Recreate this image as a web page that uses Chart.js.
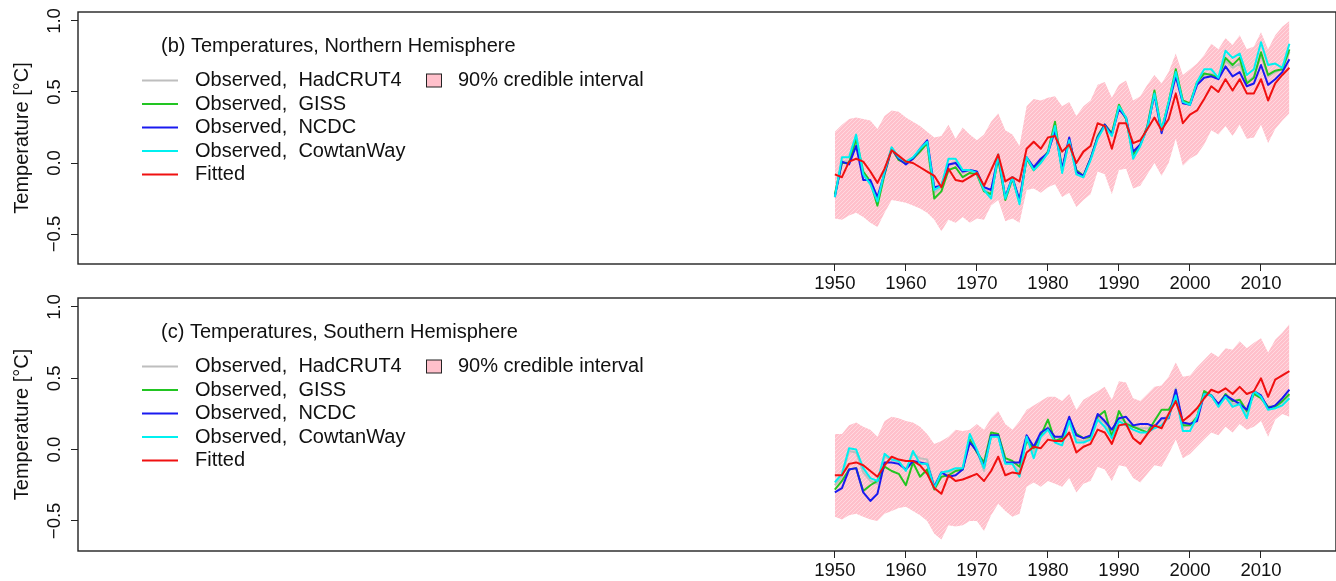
<!DOCTYPE html>
<html>
<head>
<meta charset="utf-8">
<script src="https://cdn.jsdelivr.net/npm/chart.js@4.4.1/dist/chart.umd.min.js"></script>
<style>
  html, body { margin: 0; padding: 0; background: #fff; }
  #wrap { position: relative; width: 1336px; height: 581px; overflow: hidden; }
  canvas { position: absolute; left: 0; }
</style>
</head>
<body>
<div id="wrap">
  <canvas id="nh" width="1336" height="300" style="top:0"></canvas>
  <canvas id="sh" width="1336" height="291" style="top:290px"></canvas>
</div>
<script>
// ---- years and tick labels ----
const years = [1950,1951,1952,1953,1954,1955,1956,1957,1958,1959,
               1960,1961,1962,1963,1964,1965,1966,1967,1968,1969,
               1970,1971,1972,1973,1974,1975,1976,1977,1978,1979,
               1980,1981,1982,1983,1984,1985,1986,1987,1988,1989,
               1990,1991,1992,1993,1994,1995,1996,1997,1998,1999,
               2000,2001,2002,2003,2004,2005,2006,2007,2008,2009,
               2010,2011,2012,2013,2014];
const xTicks = [1950, 1960, 1970, 1980, 1990, 2000, 2010];
const yTicks = [-0.5, 0.0, 0.5, 1.0];
const yTickLabels = ['\u22120.5', '0.0', '0.5', '1.0'];
const xLimits = [1843.44, 2020.56];
const yLimits = [-0.711, 1.063];

// ---- Northern Hemisphere (°C) ----
const nhHadCRUT4 = [-0.23,0.01,0.01,0.15,-0.09,-0.13,-0.27,-0.07,0.11,0.03,
                    0.00,0.04,0.09,0.15,-0.21,-0.17,-0.02,0.01,-0.07,-0.05,
                    -0.07,-0.18,-0.22,0.05,-0.25,-0.11,-0.27,0.04,-0.04,0.02,
                    0.07,0.25,-0.06,0.17,-0.07,-0.10,0.03,0.18,0.27,0.20,
                    0.39,0.31,0.05,0.12,0.25,0.49,0.22,0.42,0.63,0.43,
                    0.41,0.56,0.62,0.63,0.60,0.72,0.67,0.70,0.57,0.61,
                    0.76,0.61,0.64,0.66,0.78];
const nhGISS = [-0.22,0.00,0.00,0.17,-0.06,-0.13,-0.30,-0.08,0.10,0.02,
                0.00,0.03,0.08,0.14,-0.25,-0.20,-0.05,-0.03,-0.10,-0.07,
                -0.08,-0.20,-0.22,0.03,-0.26,-0.11,-0.27,0.03,-0.05,0.01,
                0.08,0.29,-0.05,0.16,-0.05,-0.09,0.03,0.19,0.27,0.21,
                0.41,0.31,0.06,0.13,0.26,0.51,0.23,0.43,0.66,0.44,
                0.42,0.57,0.63,0.62,0.60,0.74,0.69,0.74,0.56,0.60,
                0.78,0.62,0.65,0.66,0.80];
const nhNCDC = [-0.24,0.01,-0.01,0.12,-0.12,-0.12,-0.24,-0.07,0.10,0.03,
                -0.01,0.03,0.10,0.16,-0.17,-0.16,-0.01,0.00,-0.06,-0.05,
                -0.06,-0.17,-0.19,0.05,-0.24,-0.10,-0.26,0.04,-0.03,0.03,
                0.07,0.23,-0.04,0.18,-0.06,-0.09,0.03,0.18,0.27,0.20,
                0.38,0.32,0.08,0.13,0.25,0.48,0.21,0.41,0.61,0.42,
                0.41,0.55,0.60,0.61,0.59,0.68,0.61,0.64,0.54,0.56,
                0.69,0.55,0.59,0.64,0.73];
const nhCowtanWay = [-0.24,0.04,0.04,0.20,-0.08,-0.15,-0.27,-0.06,0.11,0.04,
                     0.01,0.04,0.10,0.15,-0.19,-0.16,0.03,0.03,-0.05,-0.05,
                     -0.07,-0.19,-0.25,0.06,-0.25,-0.10,-0.29,0.04,-0.05,0.00,
                     0.07,0.26,-0.07,0.16,-0.08,-0.10,0.02,0.17,0.26,0.19,
                     0.40,0.32,0.03,0.12,0.25,0.49,0.23,0.43,0.64,0.43,
                     0.41,0.57,0.66,0.66,0.60,0.79,0.74,0.77,0.62,0.66,
                     0.85,0.69,0.70,0.67,0.84];
const nhFitted = [-0.08,-0.10,0.01,0.03,0.01,-0.06,-0.14,-0.04,0.09,0.05,
                  0.01,0.00,-0.03,-0.06,-0.09,-0.17,-0.04,-0.12,-0.13,-0.10,
                  -0.07,-0.16,-0.05,0.06,-0.13,-0.10,-0.13,0.10,0.15,0.10,
                  0.18,0.19,0.08,0.13,0.00,0.08,0.12,0.28,0.26,0.10,
                  0.28,0.28,0.14,0.16,0.24,0.32,0.23,0.31,0.49,0.28,
                  0.34,0.37,0.45,0.54,0.50,0.59,0.51,0.59,0.49,0.49,
                  0.59,0.44,0.56,0.62,0.67];
const nhUpper = [0.22,0.27,0.31,0.32,0.31,0.30,0.24,0.33,0.37,0.36,
                 0.32,0.29,0.26,0.22,0.18,0.19,0.27,0.17,0.25,0.20,
                 0.16,0.20,0.29,0.35,0.23,0.20,0.12,0.40,0.45,0.44,
                 0.46,0.47,0.40,0.43,0.33,0.40,0.44,0.55,0.57,0.46,
                 0.55,0.58,0.44,0.47,0.55,0.62,0.56,0.64,0.77,0.62,
                 0.66,0.70,0.76,0.84,0.80,0.88,0.83,0.90,0.80,0.82,
                 0.92,0.80,0.90,0.96,1.00];
const nhLower = [-0.39,-0.40,-0.37,-0.35,-0.38,-0.42,-0.45,-0.35,-0.26,-0.27,
                 -0.28,-0.30,-0.32,-0.35,-0.40,-0.48,-0.40,-0.42,-0.38,-0.42,
                 -0.39,-0.40,-0.30,-0.26,-0.41,-0.39,-0.42,-0.19,-0.18,-0.21,
                 -0.17,-0.15,-0.24,-0.21,-0.31,-0.26,-0.22,-0.06,-0.08,-0.22,
                 -0.05,-0.04,-0.18,-0.16,-0.08,0.00,-0.09,0.00,0.17,-0.02,
                 0.03,0.06,0.13,0.23,0.20,0.26,0.19,0.27,0.17,0.18,
                 0.27,0.14,0.24,0.30,0.35];

// ---- Southern Hemisphere (°C) ----
const shHadCRUT4 = [-0.25,-0.19,-0.01,-0.02,-0.16,-0.22,-0.24,-0.05,-0.07,-0.09,
                    -0.14,-0.03,-0.06,-0.07,-0.26,-0.16,-0.16,-0.14,-0.13,0.08,
                    -0.01,-0.15,0.10,0.10,-0.09,-0.10,-0.16,0.08,-0.02,0.10,
                    0.16,0.07,0.05,0.21,0.07,0.06,0.08,0.22,0.19,0.10,
                    0.22,0.19,0.16,0.15,0.15,0.17,0.21,0.24,0.43,0.16,
                    0.17,0.22,0.39,0.38,0.31,0.38,0.32,0.33,0.25,0.40,
                    0.37,0.29,0.30,0.33,0.38];
const shGISS = [-0.28,-0.22,-0.14,-0.13,-0.29,-0.25,-0.22,-0.12,-0.15,-0.17,
                -0.25,-0.09,-0.19,-0.14,-0.28,-0.19,-0.18,-0.15,-0.14,0.07,
                -0.02,-0.09,0.12,0.11,-0.06,-0.08,-0.12,0.06,0.01,0.10,
                0.21,0.06,0.08,0.21,0.11,0.08,0.09,0.23,0.27,0.09,
                0.27,0.18,0.16,0.14,0.12,0.20,0.28,0.28,0.36,0.17,
                0.17,0.23,0.41,0.38,0.31,0.39,0.34,0.35,0.27,0.39,
                0.36,0.30,0.30,0.34,0.39];
const shNCDC = [-0.30,-0.27,-0.14,-0.13,-0.30,-0.36,-0.31,-0.09,-0.09,-0.10,
                -0.14,-0.08,-0.09,-0.10,-0.26,-0.16,-0.19,-0.18,-0.14,0.05,
                -0.01,-0.12,0.10,0.10,-0.09,-0.09,-0.09,0.10,0.02,0.12,
                0.15,0.09,0.09,0.23,0.10,0.08,0.10,0.25,0.20,0.14,
                0.22,0.23,0.17,0.18,0.18,0.16,0.22,0.22,0.42,0.19,
                0.18,0.20,0.39,0.38,0.32,0.38,0.35,0.32,0.28,0.41,
                0.38,0.29,0.31,0.36,0.42];
const shCowtanWay = [-0.23,-0.17,0.01,0.00,-0.13,-0.20,-0.22,-0.03,-0.07,-0.08,
                     -0.15,-0.01,-0.10,-0.10,-0.27,-0.16,-0.15,-0.13,-0.13,0.11,
                     0.00,-0.13,0.09,0.09,-0.10,-0.10,-0.19,0.09,-0.06,0.09,
                     0.14,0.05,0.03,0.20,0.05,0.05,0.07,0.21,0.16,0.08,
                     0.20,0.17,0.14,0.12,0.12,0.15,0.17,0.23,0.38,0.13,
                     0.13,0.23,0.39,0.38,0.30,0.37,0.30,0.32,0.22,0.41,
                     0.37,0.28,0.29,0.31,0.36];
const shFitted = [-0.18,-0.18,-0.10,-0.09,-0.11,-0.15,-0.19,-0.11,-0.05,-0.07,
                  -0.08,-0.08,-0.11,-0.17,-0.27,-0.31,-0.18,-0.22,-0.21,-0.19,
                  -0.17,-0.22,-0.15,-0.05,-0.18,-0.16,-0.17,-0.02,0.02,0.01,
                  0.07,0.06,0.06,0.12,-0.02,0.02,0.04,0.14,0.12,0.04,
                  0.17,0.18,0.08,0.04,0.11,0.17,0.15,0.25,0.34,0.20,
                  0.24,0.29,0.36,0.42,0.40,0.43,0.39,0.44,0.39,0.41,
                  0.50,0.37,0.49,0.52,0.55];
const shUpper = [0.11,0.11,0.17,0.19,0.16,0.14,0.09,0.20,0.23,0.22,
                 0.20,0.19,0.16,0.11,0.04,0.06,0.09,0.14,0.13,0.14,
                 0.18,0.14,0.22,0.27,0.18,0.14,0.20,0.28,0.31,0.34,
                 0.37,0.37,0.34,0.39,0.28,0.35,0.38,0.41,0.44,0.35,
                 0.48,0.47,0.36,0.34,0.39,0.44,0.45,0.51,0.61,0.51,
                 0.52,0.58,0.63,0.68,0.65,0.71,0.70,0.76,0.71,0.75,
                 0.78,0.68,0.77,0.82,0.88];
const shLower = [-0.47,-0.49,-0.46,-0.45,-0.47,-0.49,-0.50,-0.45,-0.43,-0.41,
                 -0.40,-0.43,-0.46,-0.50,-0.59,-0.63,-0.53,-0.54,-0.53,-0.50,
                 -0.50,-0.57,-0.46,-0.38,-0.43,-0.47,-0.45,-0.26,-0.23,-0.26,
                 -0.22,-0.24,-0.26,-0.20,-0.30,-0.24,-0.22,-0.12,-0.14,-0.22,
                 -0.11,-0.12,-0.20,-0.23,-0.17,-0.11,-0.12,-0.03,0.07,-0.06,
                 -0.03,0.02,0.07,0.12,0.10,0.16,0.12,0.18,0.14,0.16,
                 0.20,0.09,0.21,0.25,0.23];

// ---- series names and colours ----
const seriesNames = ['Observed,  HadCRUT4', 'Observed,  GISS', 'Observed,  NCDC',
                     'Observed,  CowtanWay', 'Fitted'];
const seriesColors = ['#BEBEBE', '#22C522', '#1A1AF0', '#00F0F0', '#F01010'];
const bandLabel = '90% credible interval';
const bandColor = '#FFC0CB';

const FONT = '"Liberation Sans", Arial, Helvetica, sans-serif';
Chart.defaults.font.family = FONT;
Chart.defaults.color = '#111';

function toPoints(vals) {
  return years.map((yr, i) => ({ x: yr, y: vals[i] }));
}

// pink fill with faint white diagonal hatching
function hatchPattern(ctx) {
  const tile = document.createElement('canvas');
  tile.width = 4; tile.height = 4;
  const g = tile.getContext('2d');
  g.fillStyle = bandColor;
  g.fillRect(0, 0, 4, 4);
  g.strokeStyle = 'rgba(255,255,255,0.5)';
  g.lineWidth = 0.8;
  g.beginPath();
  g.moveTo(-1, 5); g.lineTo(5, -1);
  g.moveTo(3, 5); g.lineTo(5, 3);
  g.moveTo(-1, 1); g.lineTo(1, -1);
  g.stroke();
  return ctx.createPattern(tile, 'repeat');
}

// frame, rotated y tick labels and the in-plot legend
const panelDecor = {
  id: 'panelDecor',
  afterDraw(chart, args, opts) {
    const { ctx, chartArea: a, scales } = chart;
    const y = scales.y;
    ctx.save();
    ctx.strokeStyle = '#222';
    ctx.lineWidth = 1.4;
    ctx.strokeRect(a.left, a.top, a.right - a.left, a.bottom - a.top);

    ctx.fillStyle = '#111';
    ctx.font = '18.5px ' + FONT;
    ctx.textAlign = 'center';
    ctx.textBaseline = 'middle';
    yTicks.forEach((v, i) => {
      ctx.save();
      ctx.translate(a.left - 23, y.getPixelForValue(v));
      ctx.rotate(-Math.PI / 2);
      ctx.fillText(yTickLabels[i], 0, 0);
      ctx.restore();
    });

    ctx.font = '20px ' + FONT;
    ctx.textAlign = 'left';
    ctx.fillText(opts.title, a.left + 83, a.top + 34);
    const row0 = a.top + 68.5, step = 23.5;
    seriesNames.forEach((name, i) => {
      const ry = row0 + i * step;
      ctx.strokeStyle = seriesColors[i];
      ctx.lineWidth = 2;
      ctx.beginPath();
      ctx.moveTo(a.left + 64, ry);
      ctx.lineTo(a.left + 100, ry);
      ctx.stroke();
      ctx.fillStyle = '#111';
      ctx.fillText(name, a.left + 117, ry);
    });
    ctx.fillStyle = bandColor;
    ctx.fillRect(a.left + 348.5, row0 - 6.5, 15, 13);
    ctx.strokeStyle = '#222';
    ctx.lineWidth = 1;
    ctx.strokeRect(a.left + 348.5, row0 - 6.5, 15, 13);
    ctx.fillStyle = '#111';
    ctx.fillText(bandLabel, a.left + 380, row0);
    ctx.restore();
  }
};

function makePanel(id, title, obs, fitted, upper, lower, padTop, axisHeight) {
  const canvas = document.getElementById(id);
  const ctx = canvas.getContext('2d');
  const lines = obs.concat([fitted]);
  const datasets = [
    { data: toPoints(upper), borderColor: 'rgba(0,0,0,0)', borderWidth: 0,
      backgroundColor: hatchPattern(ctx), fill: false, order: 10 },
    { data: toPoints(lower), borderColor: 'rgba(0,0,0,0)', borderWidth: 0,
      backgroundColor: hatchPattern(ctx), fill: '-1', order: 9 }
  ];
  lines.forEach((vals, i) => {
    datasets.push({
      label: seriesNames[i], data: toPoints(vals),
      borderColor: seriesColors[i], borderWidth: 2, fill: false,
      order: 5 - i
    });
  });
  return new Chart(ctx, {
    type: 'line',
    data: { datasets },
    options: {
      responsive: false,
      animation: false,
      events: [],
      layout: { padding: { top: padTop, right: 0, bottom: 0, left: 0 } },
      elements: { point: { radius: 0 }, line: { tension: 0, borderJoinStyle: 'round' } },
      plugins: { legend: { display: false }, tooltip: { enabled: false },
                 panelDecor: { title } },
      scales: {
        x: {
          type: 'linear', min: xLimits[0], max: xLimits[1],
          afterBuildTicks: s => { s.ticks = xTicks.map(v => ({ value: v })); },
          afterFit: s => { s.height = axisHeight; },
          border: { display: false },
          grid: { drawOnChartArea: false, drawTicks: true, tickLength: 7,
                  tickColor: '#222', tickWidth: 1 },
          ticks: { callback: v => String(v), font: { size: 18.5 }, color: '#111',
                   padding: 2, maxRotation: 0, autoSkip: false }
        },
        y: {
          type: 'linear', min: yLimits[0], max: yLimits[1],
          afterBuildTicks: s => { s.ticks = yTicks.map(v => ({ value: v })); },
          afterFit: s => { s.width = 78; },
          border: { display: false },
          grid: { drawOnChartArea: false, drawTicks: true, tickLength: 7,
                  tickColor: '#222', tickWidth: 1 },
          ticks: { display: false },
          title: { display: true, text: 'Temperature [°C]', font: { size: 20 },
                   color: '#111', padding: { top: 10, bottom: 0 } }
        }
      }
    },
    plugins: [panelDecor]
  });
}

makePanel('nh', '(b) Temperatures, Northern Hemisphere',
          [nhHadCRUT4, nhGISS, nhNCDC, nhCowtanWay], nhFitted, nhUpper, nhLower, 12, 36);
makePanel('sh', '(c) Temperatures, Southern Hemisphere',
          [shHadCRUT4, shGISS, shNCDC, shCowtanWay], shFitted, shUpper, shLower, 8, 30);
</script>
</body>
</html>
